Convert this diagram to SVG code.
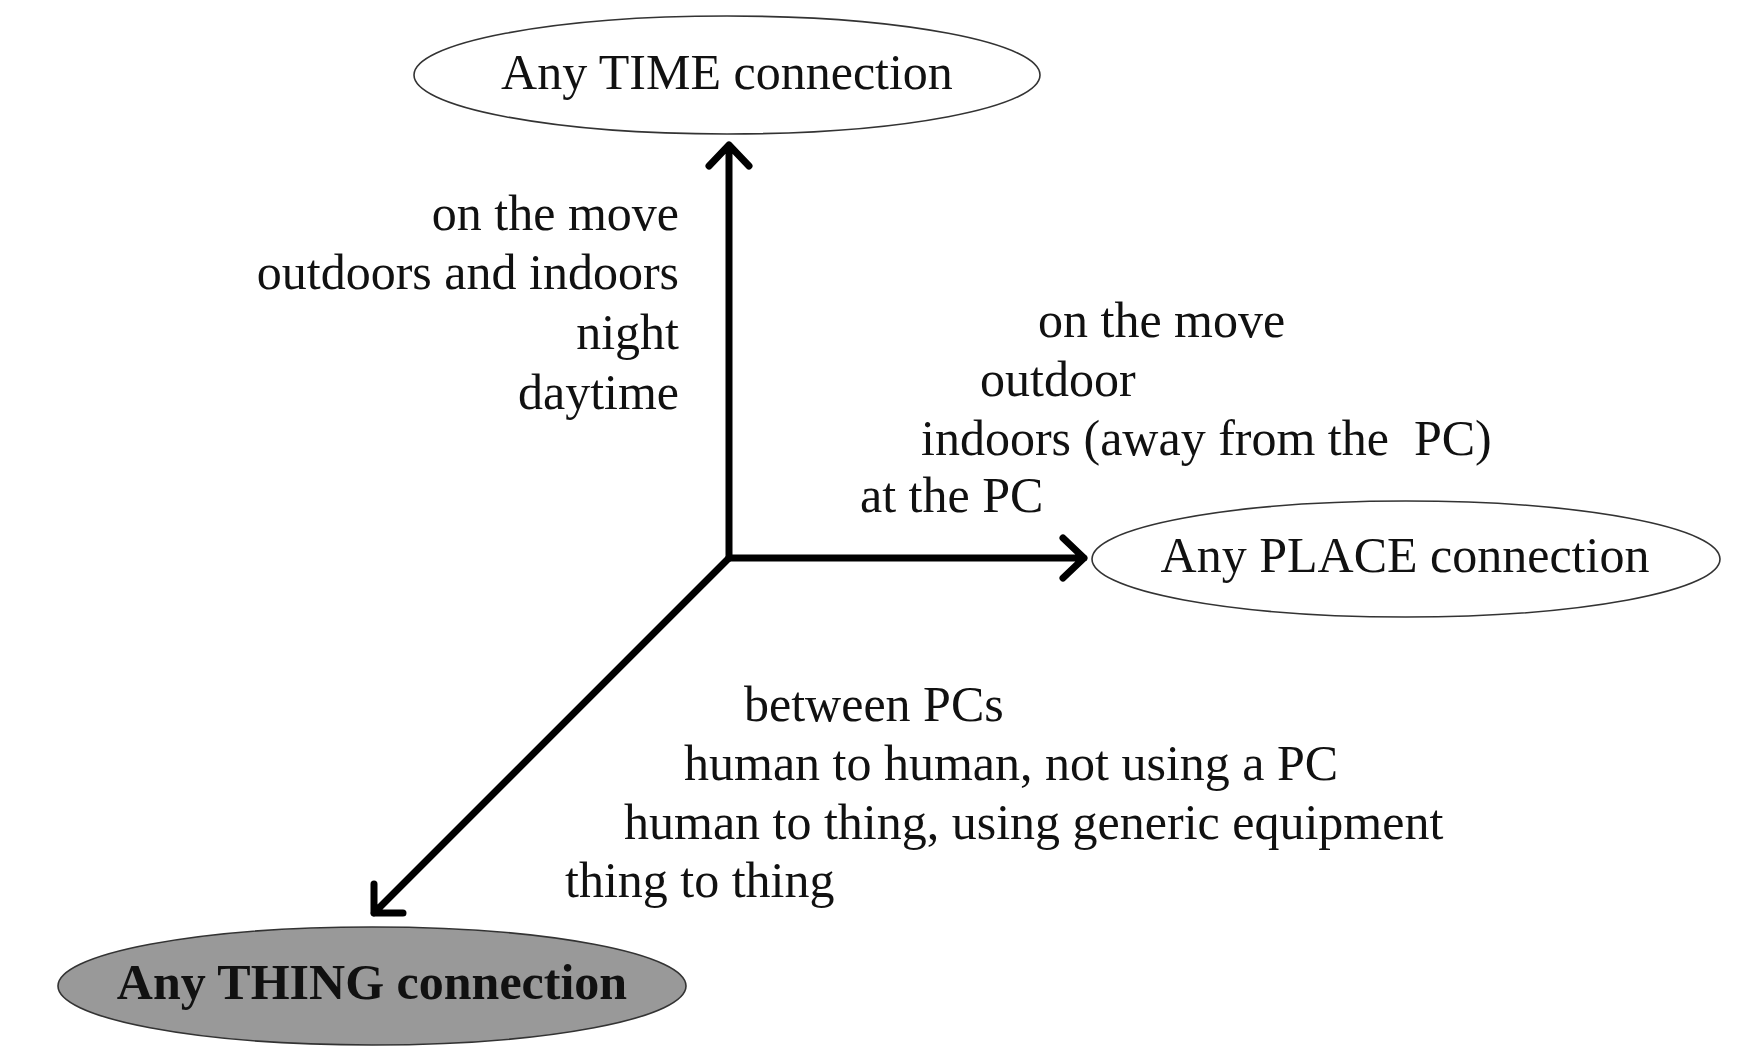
<svg xmlns="http://www.w3.org/2000/svg" width="1756" height="1064" viewBox="0 0 1756 1064">
<style>
  .lbl{font-family:"Liberation Serif","Times New Roman",serif;font-size:50px;fill:#111}
  .node{stroke:#333;stroke-width:1.6}
  .axis{stroke:#000;stroke-width:7;fill:none;stroke-linecap:round;stroke-linejoin:round}
</style>
<rect width="1756" height="1064" fill="#fff"/>
<g id="connectors">
  <path class="axis" d="M729 558 V145 M709 166 L729 145 L749 166"/>
  <path class="axis" d="M729 558 H1084 M1063 538 L1084 558 L1063 578"/>
  <path class="axis" d="M729 558 L374 913 M374 884 L374 913 L403 913"/>
</g>
<g id="node-time">
  <ellipse class="node" cx="727" cy="75" rx="313" ry="59" fill="#fff"/>
  <text class="lbl" x="727" y="89" text-anchor="middle">Any TIME connection</text>
</g>
<g id="node-place">
  <ellipse class="node" cx="1406" cy="559" rx="314" ry="58" fill="#fff"/>
  <text class="lbl" x="1405" y="572" text-anchor="middle">Any PLACE connection</text>
</g>
<g id="node-thing">
  <ellipse class="node" cx="372" cy="986" rx="314" ry="59" fill="#999"/>
  <text class="lbl" x="372" y="999" text-anchor="middle" font-weight="bold" fill="#000">Any THING connection</text>
</g>
<g id="time-labels">
  <text class="lbl" x="679" y="230" text-anchor="end">on the move</text>
  <text class="lbl" x="679" y="289" text-anchor="end">outdoors and indoors</text>
  <text class="lbl" x="679" y="349" text-anchor="end">night</text>
  <text class="lbl" x="679" y="409" text-anchor="end">daytime</text>
</g>
<g id="place-labels">
  <text class="lbl" x="1038" y="337">on the move</text>
  <text class="lbl" x="980" y="396">outdoor</text>
  <text class="lbl" x="921" y="455" xml:space="preserve">indoors (away from the  PC)</text>
  <text class="lbl" x="860" y="512">at the PC</text>
</g>
<g id="thing-labels">
  <text class="lbl" x="744" y="721">between PCs</text>
  <text class="lbl" x="684" y="780">human to human, not using a PC</text>
  <text class="lbl" x="624" y="839">human to thing, using generic equipment</text>
  <text class="lbl" x="565" y="897">thing to thing</text>
</g>
</svg>
